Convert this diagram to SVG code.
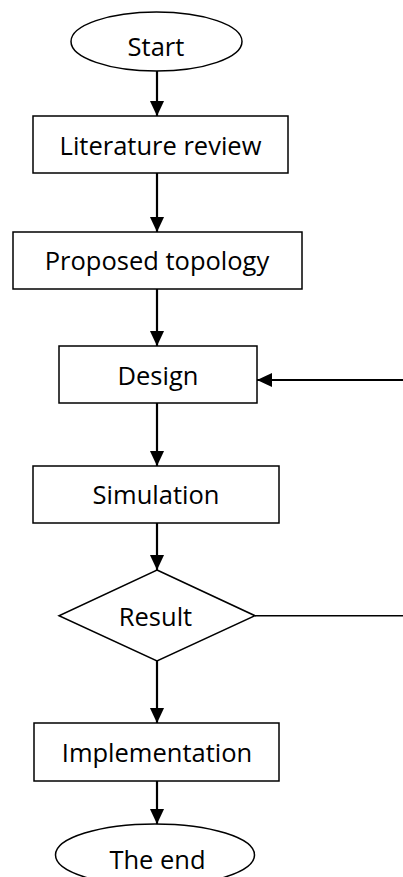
<svg xmlns="http://www.w3.org/2000/svg" width="403" height="877" viewBox="0 0 403 877">
<defs>
<style>
.box{fill:#fff;stroke:#000;stroke-width:1.5}
.lbl{font-family:"Open Sans","Liberation Sans",sans-serif;font-size:25.5px;fill:#000;text-anchor:middle}
.arr{stroke:#000;stroke-width:2.2;fill:none}
.thin{stroke:#000;stroke-width:1.4;fill:none}
</style>
<marker id="ah" markerWidth="15" markerHeight="16" refX="16" refY="8" orient="auto" markerUnits="userSpaceOnUse" viewBox="0 0 16 16">
<path d="M0,0.5 L16,8 L0,15.5 Z" fill="#000"/>
</marker>
</defs>
<rect width="403" height="877" fill="#fff"/>
<g id="connectors">
<line class="arr" x1="157" y1="71" x2="157" y2="116" marker-end="url(#ah)"/>
<line class="arr" x1="157" y1="173" x2="157" y2="232" marker-end="url(#ah)"/>
<line class="arr" x1="157" y1="289" x2="157" y2="346" marker-end="url(#ah)"/>
<line class="arr" x1="157" y1="403" x2="157" y2="466" marker-end="url(#ah)"/>
<line class="arr" x1="157" y1="523" x2="157" y2="570" marker-end="url(#ah)"/>
<line class="arr" x1="157" y1="661" x2="157" y2="723" marker-end="url(#ah)"/>
<line class="arr" x1="157" y1="781" x2="157" y2="824" marker-end="url(#ah)"/>
<line class="arr" x1="403" y1="380" x2="257" y2="380" marker-end="url(#ah)"/>
<line class="thin" x1="255" y1="615.7" x2="403" y2="615.7"/>
</g>
<g id="start">
<ellipse class="box" cx="156.5" cy="41.5" rx="85.5" ry="29.5"/>
<text class="lbl" x="156" y="56">Start</text>
</g>
<g id="literature">
<rect class="box" x="33" y="116" width="255" height="57"/>
<text class="lbl" x="160.5" y="155">Literature review</text>
</g>
<g id="proposed">
<rect class="box" x="13" y="232" width="289" height="57"/>
<text class="lbl" x="157" y="270">Proposed topology</text>
</g>
<g id="design">
<rect class="box" x="59" y="346" width="198" height="57"/>
<text class="lbl" x="158" y="385">Design</text>
</g>
<g id="simulation">
<rect class="box" x="33" y="466" width="246" height="57"/>
<text class="lbl" x="156" y="504">Simulation</text>
</g>
<g id="result">
<polygon class="box" points="157,570 255,615.7 157,661 59,615.7"/>
<text class="lbl" x="155.5" y="626">Result</text>
</g>
<g id="implementation">
<rect class="box" x="34" y="723" width="245" height="58"/>
<text class="lbl" x="157" y="762">Implementation</text>
</g>
<g id="end">
<ellipse class="box" cx="155" cy="855" rx="99.5" ry="31"/>
<text class="lbl" x="157.5" y="869">The end</text>
</g>
</svg>
